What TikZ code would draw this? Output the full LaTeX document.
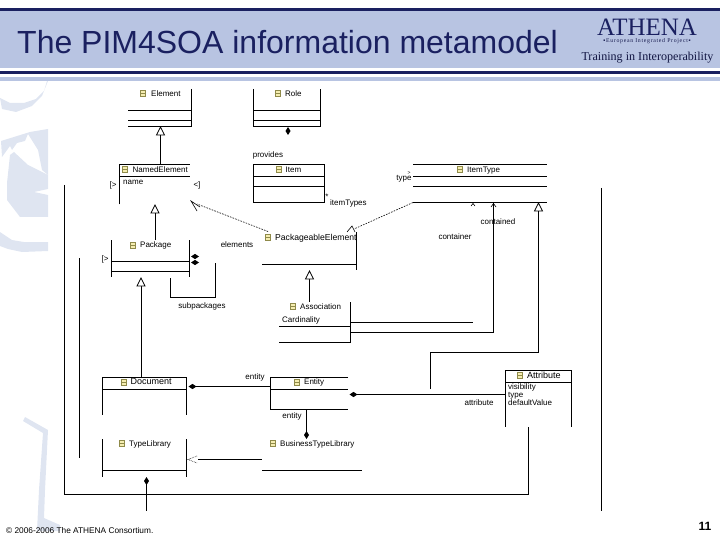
\documentclass[tikz,border=0pt]{standalone}
\usepackage{fontspec}
\setmainfont{Liberation Sans}
\newfontfamily\logofont{Liberation Serif}
\newfontfamily\logospaced[LetterSpace=12]{Liberation Serif}
\definecolor{navy}{HTML}{1A2060}
\definecolor{band}{HTML}{B8C4E2}
\definecolor{wmark}{HTML}{DFE5F1}
\definecolor{iconfill}{HTML}{F5EDB0}
\definecolor{iconline}{HTML}{8F8A4A}
\newcommand{\opentri}[2]{\draw[umlline,fill=white,line width=.7pt] (#1-4,#2+8) -- (#1,#2) -- (#1+4,#2+8) -- cycle;}
\newcommand{\blob}[2]{\fill[black] (#1-4,#2) -- (#1,#2-2.6) -- (#1+4,#2) -- (#1,#2+2.6) -- cycle;}
\newcommand{\vblob}[2]{\fill[black] (#1-2.5,#2) -- (#1,#2-4) -- (#1+2.5,#2) -- (#1,#2+4) -- cycle;}
\newcommand{\umlicon}[2]{\draw[iconline,fill=iconfill,line width=.6pt] (#1,#2) rectangle (#1+5,#2+6); \draw[iconline,line width=.5pt] (#1,#2+3) -- (#1+5,#2+3);}
\tikzset{
  umlline/.style={black,line width=.9pt},
  dashline/.style={black,line width=.6pt,dash pattern=on 1.6pt off 1.2pt},
  lbl/.style={font=\fontsize{8}{8}\selectfont,inner sep=0pt,black,text height=5.8pt,text depth=1.7pt,yshift=-.6pt},
  llbl/.style={lbl,anchor=west},
  wide/.style={font=\fontsize{9}{9}\selectfont},
  midw/.style={font=\fontsize{8.6}{9}\selectfont},
  wm/.style={fill=wmark,draw=none}
}
\begin{document}
\begin{tikzpicture}[x=1pt,y=-1pt]
\useasboundingbox (0,0) rectangle (720,540);
% watermark
\fill[wm] (47,81) -- (44,91) -- (36,99) -- (24,103) -- (10,103) -- (0,98) -- (2,109) -- (16,112) -- (32,106) -- (42,96) -- (48,81) -- cycle;
\fill[wm] (1,141) -- (30,132) -- (48,129) -- (48,175) -- (42,170) -- (38,150) -- (28,134) -- (25,141) -- (17,143) -- (12,150) -- (10,146) -- (2,157) -- cycle;
\fill[wm] (10,155) -- (7,183) -- (7,200) -- (20,217) -- (48,217) -- (48,195) -- (34,192) -- (48,189) -- (48,175) -- (28,165) -- (14,152) -- cycle;
\fill[wm] (0,232) -- (12,240) -- (24,242) -- (48,242) -- (48,251) -- (22,252) -- (8,249) -- (0,246) -- cycle;
\fill[wm] (23,421) -- (25,417) -- (48,430) -- (45,490) -- (44,518) -- (60,525) -- (60,531) -- (37,531) -- (39,490) -- (43,433) -- cycle;
% header
\fill[band] (0,11) rectangle (720,68);
\fill[navy] (0,8) rectangle (720,11.5);
\fill[navy] (0,71) rectangle (720,74);
\fill[band] (0,77) rectangle (720,81);
\node[name=title,anchor=west,inner sep=0pt,text=navy,font=\fontsize{32}{34}\selectfont] at (17,42.5) {The PIM4SOA information metamodel};
\node[name=logo,inner sep=0pt,text=navy,font=\logofont\fontsize{25}{25}\selectfont] at (647,27) {ATHENA};
\node[name=logosub,inner sep=0pt,text=navy!80!black,font=\logospaced\fontsize{5.8}{6}\selectfont] at (647,41) {▪European Integrated Project▪};
\node[name=logotrain,inner sep=0pt,text=navy!70!black,font=\logofont\fontsize{12.1}{13}\selectfont] at (647.5,57.5) {Training in Interoperability};
% coordinates
\coordinate (outerA) at (64.5,185);
\coordinate (outerB) at (64.5,494.5);
\coordinate (outerC) at (528.5,494.5);
\coordinate (outerD) at (528.5,427);
\coordinate (innerA) at (79.5,258);
\coordinate (innerB) at (79.5,457.5);
\coordinate (rightA) at (601.5,188);
\coordinate (rightB) at (601.5,511);
% Element
\draw[umlline] (128,110) -- (191.5,110) (128,120.5) -- (191.5,120.5) (128,126.5) -- (191.5,126.5) (191.5,89) -- (191.5,126.5);
\umlicon{140.5}{90.5}
\node[llbl,name=element] at (151,93.5) {Element};
% Role
\draw[umlline] (253.5,89) -- (253.5,126.5) -- (320.5,126.5) -- (320.5,89) (253.5,110) -- (320.5,110) (253.5,120.5) -- (320.5,120.5);
\umlicon{275.5}{90.5}
\node[llbl,name=role] at (285,93.5) {Role};
\vblob{288}{131}
\node[lbl,name=provides] at (268,155) {provides};
% Item
\draw[umlline] (253.5,164.5) rectangle (324.5,202.5) (253.5,176.5) -- (324.5,176.5) (253.5,186.5) -- (324.5,186.5);
\umlicon{276}{166}
\node[llbl,name=item] at (285.5,169.5) {Item};
\node[llbl,name=itemtypes] at (330,203) {itemTypes};
\node[lbl,name=itemstar] at (327,197) {*};
% NamedElement
\draw[umlline] (119.5,204.5) -- (119.5,164.5) -- (190,164.5) (119.5,176.5) -- (190,176.5);
\umlicon{122.5}{166}
\node[llbl,name=namedelement] at (132.5,169.5) {NamedElement};
\node[llbl,name=nameattr] at (123,182) {name};
\node[lbl,name=brL] at (113,185) {[>};
\node[lbl,name=brR] at (197,185) {<]};
\coordinate (elemgen) at (160.5,135);
\coordinate (negentop) at (160.5,164.5);
\draw[umlline] (elemgen) -- (negentop);
\opentri{160.5}{127}
\coordinate (pkgtop) at (155,240);
\coordinate (negen) at (155,213);
\draw[umlline] (pkgtop) -- (negen);
\opentri{155}{205}
% Package
\draw[umlline] (111.5,240) -- (111.5,277) (189.5,240) -- (189.5,277) (111.5,261) -- (189.5,261) (111.5,271) -- (189.5,271);
\umlicon{130}{242}
\node[llbl,name=package] at (140,245) {Package};
\node[lbl,name=brP] at (105,259) {[>};
\blob{195}{256.5}
\blob{195}{262.5}
\node[lbl,name=elementslbl] at (237,245) {elements};
\coordinate (subA) at (215.5,263);
\coordinate (subB) at (215.5,297);
\coordinate (subC) at (170.5,297);
\coordinate (subD) at (170.5,278);
\draw[umlline] (subA) -- (subB) -- (subC) -- (subD);
\node[lbl,name=subpackages] at (202,305.5) {subpackages};
% outer lines
\draw[umlline] (outerA) -- (outerB) -- (outerC) -- (outerD);
\draw[umlline] (innerA) -- (innerB);
\draw[umlline] (rightA) -- (rightB);
% Document
\coordinate (docgen) at (141,286);
\coordinate (doctop) at (141,377.5);
\draw[umlline] (docgen) -- (doctop);
\opentri{141}{278}
\draw[umlline] (102.5,414.5) -- (102.5,377.5) -- (186.5,377.5) -- (186.5,414.5) (102.5,389) -- (186.5,389);
\umlicon{121}{379}
\node[llbl,wide,name=document] at (130.5,382) {Document};
% TypeLibrary
\draw[umlline] (102.5,439) -- (102.5,476.5) (186.5,439) -- (186.5,476.5) (102.5,470.5) -- (186.5,470.5);
\umlicon{119.5}{440}
\node[llbl,name=typelibrary] at (129,443.5) {TypeLibrary};
\coordinate (tlA) at (198,459.5);
\coordinate (tlB) at (262,459.5);
\draw[umlline] (tlA) -- (tlB);
\draw[black,line width=.6pt,densely dotted] (197,456) -- (188,459.5) -- (197,463);
\coordinate (tlbot) at (146.5,481);
\coordinate (tlend) at (146.5,511);
\draw[umlline] (tlbot) -- (tlend);
\vblob{146.5}{481}
% Entity
\coordinate (docent) at (190,386.5);
\coordinate (entdoc) at (270.5,386.5);
\draw[umlline] (docent) -- (entdoc);
\blob{192.5}{386.5}
\draw[umlline] (348,377.5) -- (270.5,377.5) -- (270.5,409.5) -- (348,409.5) (270.5,389) -- (348,389);
\umlicon{294.5}{379}
\node[llbl,name=entity] at (304,382) {Entity};
\node[lbl,name=entitylblA] at (255,377) {entity};
\node[lbl,name=entitylblB] at (292,415.5) {entity};
\coordinate (entbot) at (306.5,409.5);
\coordinate (bustop) at (306.5,435);
\draw[umlline] (entbot) -- (bustop);
\vblob{306.5}{435}
% BusinessTypeLibrary
\umlicon{270.5}{440}
\node[llbl,name=business] at (280,443.5) {BusinessTypeLibrary};
\draw[umlline] (262,470.5) -- (362,470.5);
% Attribute
\draw[umlline] (505.5,426.5) -- (505.5,370.5) -- (571.5,370.5) -- (571.5,426.5) (505.5,382.5) -- (571.5,382.5);
\umlicon{517}{372}
\node[llbl,wide,name=attribute] at (527,375.5) {Attribute};
\node[llbl,name=visattr,text height=4.6pt,text depth=1.7pt] at (508,387.5) {visibility};
\node[llbl,name=typeattr,text height=4.6pt,text depth=1.7pt] at (508,395.5) {type};
\node[llbl,name=defattr,text height=4.6pt,text depth=1.7pt] at (508,403.5) {defaultValue};
\node[lbl,name=attrlbl] at (479,402.5) {attribute};
\coordinate (entattr) at (350,394.5);
\coordinate (attrent) at (505.5,394.5);
\draw[umlline] (entattr) -- (attrent);
\blob{353.5}{394.5}
% Association
\coordinate (asgen) at (309.5,279);
\coordinate (astop) at (309.5,302);
\draw[umlline] (asgen) -- (astop);
\opentri{309.5}{271}
\umlicon{290.5}{303}
\node[llbl,name=association] at (300,306.5) {Association};
\node[llbl,name=cardinality] at (282,319.5) {Cardinality};
\draw[umlline] (279,326.5) -- (350.5,326.5) (279,342.5) -- (350.5,342.5) -- (350.5,302);
\coordinate (asA) at (350.5,322.5);
\coordinate (asB) at (473,322.5);
\coordinate (asC) at (350.5,332.5);
\coordinate (asD) at (493.5,332.5);
\coordinate (asE) at (493.5,203);
\draw[umlline] (asA) -- (asB);
\draw[umlline] (asC) -- (asD) -- (asE);
\draw[black,line width=.6pt] (491,207) -- (493.5,203.5) -- (496,207);
\draw[black,line width=.6pt] (471,206) -- (473,203.5) -- (475,206);
% ItemType
\draw[umlline] (413,164.5) -- (547,164.5) (413,176.5) -- (547,176.5) (413,186.5) -- (547,186.5) (413,202.5) -- (547,202.5);
\umlicon{457.5}{166}
\node[llbl,name=itemtype] at (467,169.5) {ItemType};
\node[lbl,name=typelbl,text height=4pt,text depth=1.7pt] at (404,179) {type};
\node[lbl,name=typestar,text height=3pt,text depth=0pt,font=\fontsize{5}{5}\selectfont] at (409,172) {>};
\node[lbl,name=containedlbl] at (498,222) {contained};
\node[lbl,name=containerlbl] at (455,236.5) {container};
\coordinate (attgenA) at (430,389);
\coordinate (attgenB) at (430,352.5);
\coordinate (attgenC) at (538.5,352.5);
\coordinate (attgenD) at (538.5,211);
\draw[umlline] (attgenA) -- (attgenB) -- (attgenC) -- (attgenD);
\opentri{538.5}{203}
% PackageableElement
\umlicon{265}{234}
\node[llbl,midw,name=packageable] at (275,237.5) {PackageableElement};
\draw[umlline] (356.5,232) -- (356.5,270) (262,264.5) -- (356.5,264.5);
\coordinate (peL) at (268,231.5);
\coordinate (neR) at (197,204);
\coordinate (peR) at (354,229);
\coordinate (itR) at (413,202.5);
\draw[dashline] (peL) -- (neR);
\draw[dashline] (itR) -- (peR);
\draw[black,line width=.6pt] (200,207) -- (191,201) -- (197,211);
\draw[black,line width=.6pt,fill=white] (347,232) -- (352,226) -- (355,232);
% footer
\node[llbl,name=copyright,font=\fontsize{8.3}{9}\selectfont] at (6,530.5) {© 2006-2006 The ATHENA Consortium.};
\node[name=pagenum,inner sep=0pt,font=\bfseries\fontsize{12}{12}\selectfont] at (705,526) {11};
\end{tikzpicture}
\end{document}
